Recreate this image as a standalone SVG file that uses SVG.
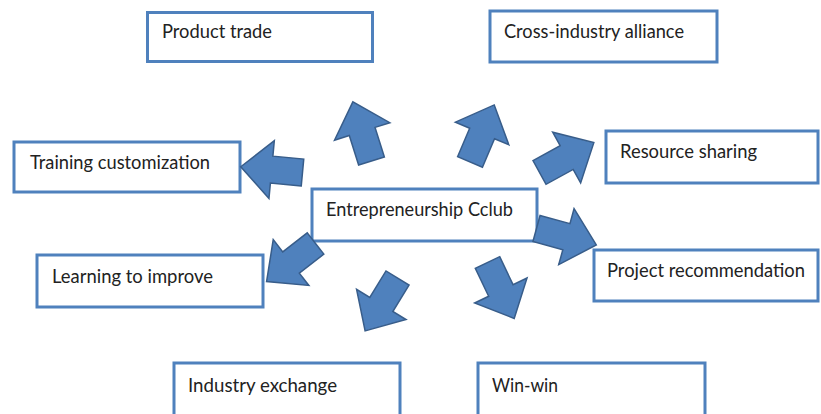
<svg xmlns="http://www.w3.org/2000/svg" xmlns:xlink="http://www.w3.org/1999/xlink" width="821" height="414" viewBox="0 0 821 414">
  <style>
    .box { fill: #ffffff; stroke: #4f81bd; stroke-width: 3; }
    .label { font-family: Lato, "Open Sans", "Liberation Sans", sans-serif; font-size: 18.5px; fill: #222222; }
    .arrow { fill: #4f81bd; stroke: #385d8a; stroke-width: 1.5; stroke-linejoin: miter; }
  </style>
  <defs>
    <!-- block arrow pointing along +x, base centred at the origin -->
    <path id="blockArrow" d="M0,-13.5 L31,-13.5 L31,-29 L62,0 L31,29 L31,13.5 L0,13.5 Z"/>
  </defs>
  <rect width="821" height="414" fill="#ffffff"/>

  <g id="node-product-trade">
    <rect class="box" x="147.5" y="12.5" width="225" height="49"/>
    <text class="label" x="162" y="38" textLength="110" lengthAdjust="spacingAndGlyphs">Product trade</text>
  </g>
  <g id="node-cross-industry-alliance">
    <rect class="box" x="490" y="11" width="227" height="51"/>
    <text class="label" x="504" y="38" textLength="180" lengthAdjust="spacingAndGlyphs">Cross-industry alliance</text>
  </g>
  <g id="node-training-customization">
    <rect class="box" x="14" y="142" width="226" height="50"/>
    <text class="label" x="30" y="169" textLength="180" lengthAdjust="spacingAndGlyphs">Training customization</text>
  </g>
  <g id="node-resource-sharing">
    <rect class="box" x="606" y="131" width="212" height="52"/>
    <text class="label" x="620" y="158" textLength="137" lengthAdjust="spacingAndGlyphs">Resource sharing</text>
  </g>
  <g id="node-entrepreneurship-club">
    <rect class="box" x="312" y="189" width="225" height="52"/>
    <text class="label" x="326" y="216" textLength="187" lengthAdjust="spacingAndGlyphs">Entrepreneurship Cclub</text>
  </g>
  <g id="node-learning-to-improve">
    <rect class="box" x="37" y="255" width="226" height="52"/>
    <text class="label" x="52" y="283" textLength="161" lengthAdjust="spacingAndGlyphs">Learning to improve</text>
  </g>
  <g id="node-project-recommendation">
    <rect class="box" x="594" y="250" width="224" height="51"/>
    <text class="label" x="607" y="277" textLength="198" lengthAdjust="spacingAndGlyphs">Project recommendation</text>
  </g>
  <g id="node-industry-exchange">
    <rect class="box" x="174" y="363" width="226" height="60"/>
    <text class="label" x="188" y="392" textLength="149" lengthAdjust="spacingAndGlyphs">Industry exchange</text>
  </g>
  <g id="node-win-win">
    <rect class="box" x="478" y="363" width="227" height="60"/>
    <text class="label" x="492" y="392" textLength="66" lengthAdjust="spacingAndGlyphs">Win-win</text>
  </g>

  <g id="connectors">
    <use xlink:href="#blockArrow" class="arrow" transform="translate(371.5,161) rotate(-107.5)"/>
    <use xlink:href="#blockArrow" class="arrow" transform="translate(470,162) rotate(-67)"/>
    <use xlink:href="#blockArrow" class="arrow" transform="translate(539.5,172.5) rotate(-28.8)"/>
    <use xlink:href="#blockArrow" class="arrow" transform="translate(302.5,172.5) rotate(185.3)"/>
    <use xlink:href="#blockArrow" class="arrow" transform="translate(536.5,228.5) rotate(15.3)"/>
    <use xlink:href="#blockArrow" class="arrow" transform="translate(315.5,243.5) rotate(142.1)"/>
    <use xlink:href="#blockArrow" class="arrow" transform="translate(397.5,278) rotate(121.5)"/>
    <use xlink:href="#blockArrow" class="arrow" transform="translate(487.5,262.5) rotate(64.5)"/>
  </g>
</svg>
